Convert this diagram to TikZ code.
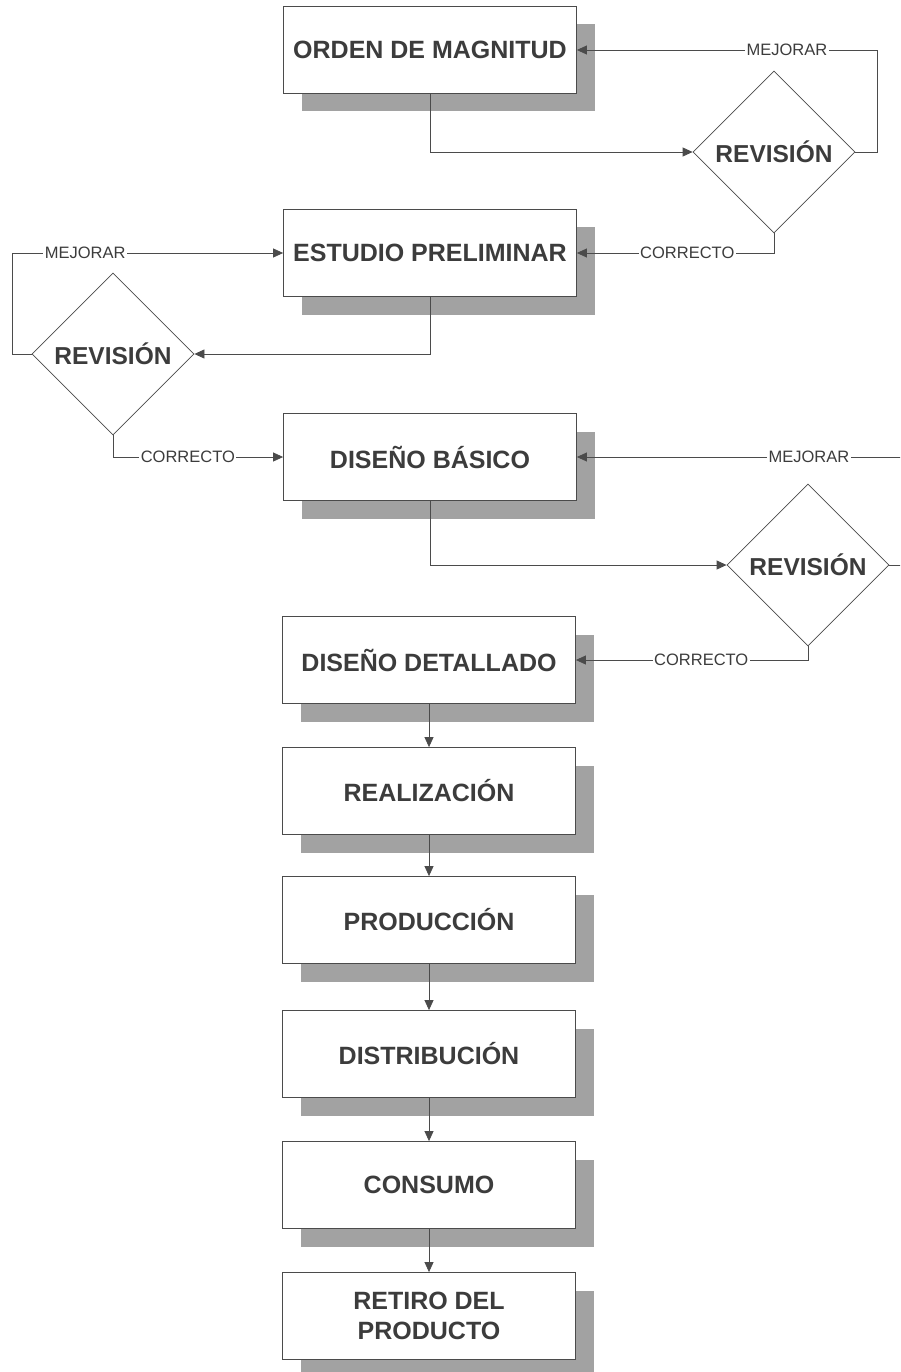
\documentclass[tikz,border=0pt]{standalone}
\usepackage{fontspec}
\setmainfont{Liberation Sans}
\usetikzlibrary{shapes.geometric,shadows,arrows.meta}
\definecolor{ink}{RGB}{60,60,60}
\definecolor{linec}{RGB}{75,75,75}
\definecolor{shade}{RGB}{162,162,162}
\tikzset{
  stage/.style={draw=linec, line width=0.8pt, fill=white, minimum width=293pt, minimum height=87pt,
    inner sep=0pt, text=ink, font=\fontsize{25}{30}\selectfont\bfseries, align=center,
    drop shadow={shadow xshift=18pt, shadow yshift=-18pt, fill=shade, opacity=1}},
  review/.style={diamond, draw=linec, line width=0.8pt, fill=white, minimum width=162pt, minimum height=162pt,
    inner sep=0pt, text=ink, font=\fontsize{24.5}{30}\selectfont\bfseries},
  conn/.style={draw=linec, line width=0.8pt},
  arr/.style={conn, -{Triangle[length=10pt,width=9pt]}},
  lbl/.style={fill=white, inner sep=1.5pt, text=ink, font=\fontsize{16.5}{18}\selectfont}
}
\begin{document}
\begin{tikzpicture}[x=1pt,y=-1pt]
\useasboundingbox (0,0) rectangle (900,1372);
\clip (0,0) rectangle (900,1372);
% stages
\node[stage] (b1) at (430,50) {ORDEN DE MAGNITUD};
\node[stage] (b2) at (430,253) {ESTUDIO PRELIMINAR};
\node[stage] (b3) at (430,457) {DISEÑO BÁSICO};
\node[stage] (b4) at (429,660) {DISEÑO DETALLADO};
\node[stage] (b5) at (429,791) {REALIZACIÓN};
\node[stage] (b6) at (429,920) {PRODUCCIÓN};
\node[stage] (b7) at (429,1054) {DISTRIBUCIÓN};
\node[stage] (b8) at (429,1185) {CONSUMO};
\node[stage] (b9) at (429,1316) {RETIRO DEL\\PRODUCTO};
% reviews
\node[review] (d1) at (774,152) {\makebox[0pt]{REVISIÓN}};
\node[review] (d2) at (113,354) {\makebox[0pt]{REVISIÓN}};
\node[review] (d3) at (808,565) {\makebox[0pt]{REVISIÓN}};
% corner coordinates
\coordinate (m1) at (877,50);
\coordinate (m2) at (12,253);
\coordinate (m3) at (918,457);
% loop 1
\draw[arr] (b1.south) |- (d1.west);
\draw[arr] (d1.east) -| (m1) -- node[lbl, pos=0.30] (l1) {MEJORAR} (b1.east);
\draw[arr] (d1.south) |- node[lbl, pos=0.72] (l2) {CORRECTO} (b2.east);
% loop 2
\draw[arr] (b2.south) |- (d2.east);
\draw[arr] (d2.west) -| (m2) -- node[lbl, pos=0.27] (l3) {MEJORAR} (b2.west);
\draw[arr] (d2.south) |- node[lbl, pos=0.72] (l4) {CORRECTO} (b3.west);
% loop 3
\draw[arr] (b3.south) |- (d3.west);
\draw[arr] (d3.east) -| (m3) -- node[lbl, pos=0.32] (l5) {MEJORAR} (b3.east);
\draw[arr] (d3.south) |- node[lbl, pos=0.73] (l6) {CORRECTO} (b4.east);
% sequence
\draw[arr] (b4.south) -- (b5.north);
\draw[arr] (b5.south) -- (b6.north);
\draw[arr] (b6.south) -- (b7.north);
\draw[arr] (b7.south) -- (b8.north);
\draw[arr] (b8.south) -- (b9.north);
\end{tikzpicture}
\end{document}
